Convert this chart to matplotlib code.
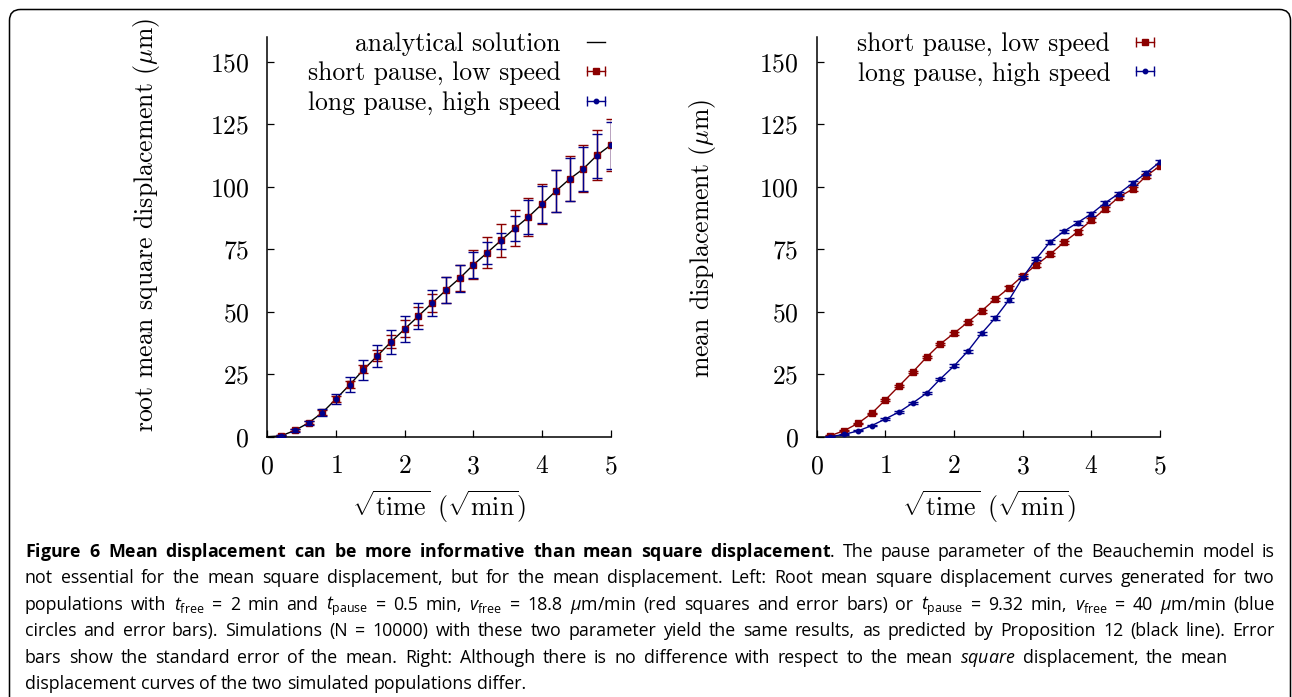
import matplotlib
matplotlib.use('Agg')
import matplotlib.pyplot as plt
from matplotlib.lines import Line2D
from matplotlib.legend_handler import HandlerLine2D, HandlerTuple
from matplotlib.patches import FancyBboxPatch
from matplotlib.transforms import IdentityTransform

plt.rcParams['font.family'] = ['cmr10', 'DejaVu Serif']
plt.rcParams['axes.formatter.use_mathtext'] = True
plt.rcParams['mathtext.fontset'] = 'custom'
plt.rcParams['mathtext.rm'] = 'Open Sans'
plt.rcParams['mathtext.it'] = 'Open Sans:italic'
plt.rcParams['mathtext.bf'] = 'Open Sans:bold'

# === data ===
sqrt_t = [0.2, 0.4, 0.6, 0.8, 1.0, 1.2, 1.4, 1.6, 1.8, 2.0, 2.2, 2.4, 2.6,
          2.8, 3.0, 3.2, 3.4, 3.6, 3.8, 4.0, 4.2, 4.4, 4.6, 4.8, 5.0]

# left: root mean square displacement
sqrt_t_line = [0.0] + sqrt_t
rms_analytic = [0.0, 0.3, 2.5, 5.5, 9.6, 15.1, 20.8, 26.8, 32.3, 37.9, 43.1, 48.3, 53.5,
                58.6, 63.4, 68.8, 73.6, 78.5, 83.3, 87.9, 93.1, 98.3, 103.1, 107.2, 112.6, 116.7]
rms_short = [0.3, 2.5, 5.6, 9.7, 15.2, 20.9, 26.9, 32.4, 38.0, 43.2, 48.4, 53.6, 58.7,
             63.5, 68.8, 73.7, 78.6, 83.4, 88.0, 93.2, 98.4, 103.2, 107.3, 112.7, 116.8]
rms_short_err = [0.2, 0.4, 0.5, 0.9, 1.2, 1.5, 1.6, 2.1, 2.5, 3.3, 3.7, 3.7, 5.1,
                 5.3, 5.8, 6.2, 6.7, 7.2, 7.5, 8.0, 8.4, 9.0, 9.5, 9.9, 10.3]
rms_long = [0.3, 2.5, 5.5, 9.6, 15.0, 20.7, 26.7, 32.2, 37.9, 43.1, 48.3, 53.5, 58.6,
            63.4, 68.7, 73.5, 78.4, 83.3, 87.9, 93.0, 98.2, 103.0, 107.2, 112.5, 116.6]
rms_long_err = [0.3, 0.5, 0.8, 1.4, 2.1, 3.0, 3.9, 4.3, 4.7, 5.1, 5.2, 5.2, 5.2,
                5.3, 5.1, 4.5, 3.2, 4.9, 6.7, 7.5, 8.4, 8.7, 8.7, 8.8, 9.3]

# right: mean displacement
md_short = [0.4, 2.4, 5.3, 9.3, 14.7, 20.3, 25.9, 31.8, 37.1, 41.4, 45.8, 50.3, 55.1,
            59.5, 64.4, 68.8, 73.0, 77.8, 82.0, 86.6, 91.2, 95.9, 99.1, 104.4, 108.4]
md_short_err = [0.1, 0.2, 0.3, 0.3, 0.4, 0.4, 0.5, 0.5, 0.5, 0.6, 0.6, 0.6, 0.6,
                0.7, 0.7, 0.7, 0.7, 0.7, 0.8, 0.8, 0.8, 0.8, 0.8, 0.8, 0.8]
md_long = [0.0, 0.9, 2.3, 4.4, 7.1, 9.9, 13.5, 17.4, 23.1, 28.3, 34.2, 41.3, 47.5,
           54.7, 63.7, 71.3, 78.0, 82.2, 85.7, 89.2, 93.6, 97.3, 101.5, 105.6, 110.0]
md_long_err = [0.1, 0.2, 0.2, 0.3, 0.3, 0.4, 0.4, 0.5, 0.5, 0.6, 0.6, 0.6, 0.7,
               0.7, 0.7, 0.7, 0.7, 0.7, 0.8, 0.8, 0.8, 0.8, 0.8, 0.9, 0.9]

x_ticks = [0, 1, 2, 3, 4, 5]
y_ticks = [0, 25, 50, 75, 100, 125, 150]

RED = '#8b0000'
BLUE = '#00008b'
FS = 18.5

fig = plt.figure(figsize=(12.92, 6.97), dpi=100)
ax1 = fig.add_axes([0.2069, 0.3735, 0.2658, 0.5735])
ax2 = fig.add_axes([0.6321, 0.3735, 0.2658, 0.5735])

for ax in (ax1, ax2):
    ax.set_xlim(0, 5)
    ax.set_ylim(0, 160)
    ax.set_xticks(x_ticks)
    ax.set_yticks(y_ticks)
    for s in ['top', 'right']:
        ax.spines[s].set_visible(False)
    for s in ['left', 'bottom']:
        ax.spines[s].set_linewidth(1.1)
    ax.tick_params(direction='in', length=5, width=0.9, labelsize=FS)
    ax.tick_params(axis='x', pad=13)
    ax.tick_params(axis='y', pad=13)
    ax.patch.set_visible(False)

ebkw = dict(elinewidth=1.0, capsize=3.8, capthick=1.0, linewidth=1.0)

# left panel
ax1.plot(sqrt_t_line, rms_analytic, color='black', lw=1.0, zorder=1)
ax1.errorbar(sqrt_t, rms_short, yerr=rms_short_err, color=RED, fmt='s', ms=4.5, zorder=2, **ebkw)
ax1.errorbar(sqrt_t, rms_long, yerr=rms_long_err, color=BLUE, fmt='o', ms=3.2, zorder=3, **ebkw)

# right panel
ax2.errorbar(sqrt_t, md_short, yerr=md_short_err, color=RED, fmt='-s', ms=4.5, zorder=2, **ebkw)
ax2.errorbar(sqrt_t, md_long, yerr=md_long_err, color=BLUE, fmt='-o', ms=3.2, zorder=3, **ebkw)


# legend handles: horizontal bar with caps and a marker in the middle
def key_handle(color, marker, ms):
    caps = Line2D([], [], color=color, lw=1.0, marker='|', ms=7, mew=1.0)
    mark = Line2D([], [], color=color, ls='none', marker=marker, ms=ms)
    return (caps, mark), {caps: HandlerLine2D(numpoints=2, marker_pad=0),
                          mark: HandlerLine2D(numpoints=1)}


h_red, m_red = key_handle(RED, 's', 4.5)
h_blue, m_blue = key_handle(BLUE, 'o', 3.2)
h_black = Line2D([], [], color='black', lw=1.0)
hmap = {tuple: HandlerTuple(ndivide=1)}
hmap.update(m_red)
hmap.update(m_blue)

leg_kw = dict(loc='upper right', frameon=False, markerfirst=False, fontsize=FS,
              handlelength=0.7, handletextpad=1.0, labelspacing=0.22,
              borderpad=0, borderaxespad=0, handler_map=hmap)
ax1.legend([h_black, h_red, h_blue],
           ['analytical solution', 'short pause, low speed', 'long pause, high speed'],
           bbox_to_anchor=(0.982, 1.012), **leg_kw)
ax2.legend([h_red, h_blue], ['short pause, low speed', 'long pause, high speed'],
           bbox_to_anchor=(0.982, 1.012), **leg_kw)

# axis labels
xlab = r'$\sqrt{\mathrm{time}}$ ($\sqrt{\mathrm{min}}$)'
fig.text(439 / 1292, 1 - 507 / 697, xlab, fontsize=FS, ha='center', va='center', math_fontfamily='cm')
fig.text(989 / 1292, 1 - 507 / 697, xlab, fontsize=FS, ha='center', va='center', math_fontfamily='cm')
fig.text(147 / 1292, 1 - 225 / 697, r'root mean square displacement ($\mu$m)', fontsize=FS,
         rotation=90, ha='center', va='center', math_fontfamily='cm')
fig.text(703 / 1292, 1 - 239 / 697, r'mean displacement ($\mu$m)', fontsize=FS,
         rotation=90, ha='center', va='center', math_fontfamily='cm')

# frame around the figure
frame = FancyBboxPatch((9.5, -30), 1281, 30 + 697 - 9.5, boxstyle='round,pad=0,rounding_size=11',
                       transform=IdentityTransform(), fill=False, lw=1.1, ec='black')
fig.add_artist(frame)

# caption; lines spread to the right edge given per line (None = natural spacing)
cap_lines = [
    r'$\mathbf{Figure}$ $\mathbf{6}$ $\mathbf{Mean}$ $\mathbf{displacement}$ $\mathbf{can}$ $\mathbf{be}$ '
    r'$\mathbf{more}$ $\mathbf{informative}$ $\mathbf{than}$ $\mathbf{mean}$ $\mathbf{square}$ '
    r'$\mathbf{displacement}$. The pause parameter of the Beauchemin model is',
    'not essential for the mean square displacement, but for the mean displacement. Left: Root mean '
    'square displacement curves generated for two',
    r'populations with $t_{\mathrm{free}}$ = 2 min and $t_{\mathrm{pause}}$ = 0.5 min, $v_{\mathrm{free}}$ = '
    r'18.8 $\mu$m/min (red squares and error bars) or $t_{\mathrm{pause}}$ = 9.32 min, $v_{\mathrm{free}}$ = '
    r'40 $\mu$m/min (blue',
    'circles and error bars). Simulations (N = 10000) with these two parameter yield the same results, '
    'as predicted by Proposition 12 (black line). Error',
    r'bars show the standard error of the mean. Right: Although there is no difference with respect to '
    r'the mean $\mathit{square}$ displacement, the mean',
    'displacement curves of the two simulated populations differ.',
]
line_right = [1275, 1275, 1275, 1275, 1228, None]
CAP_FS = 12.8
x_left = 25
baseline0, line_step = 557, 26.4

renderer = fig.canvas.get_renderer()
for i, line in enumerate(cap_lines):
    words = line.split(' ')
    y = 697 - (baseline0 + i * line_step)
    texts = [fig.text(0, y, w, fontsize=CAP_FS, family='Open Sans', ha='left', va='baseline',
                      transform=IdentityTransform(), math_fontfamily='custom') for w in words]
    widths = [t.get_window_extent(renderer).width for t in texts]
    if line_right[i] is not None:
        gap = (line_right[i] - x_left - sum(widths)) / (len(words) - 1)
    else:
        gap = CAP_FS * 100 / 72 * 0.26
    x = x_left
    for t, w in zip(texts, widths):
        t.set_x(x)
        x += w + gap

fig.savefig('out.png', dpi=100)
